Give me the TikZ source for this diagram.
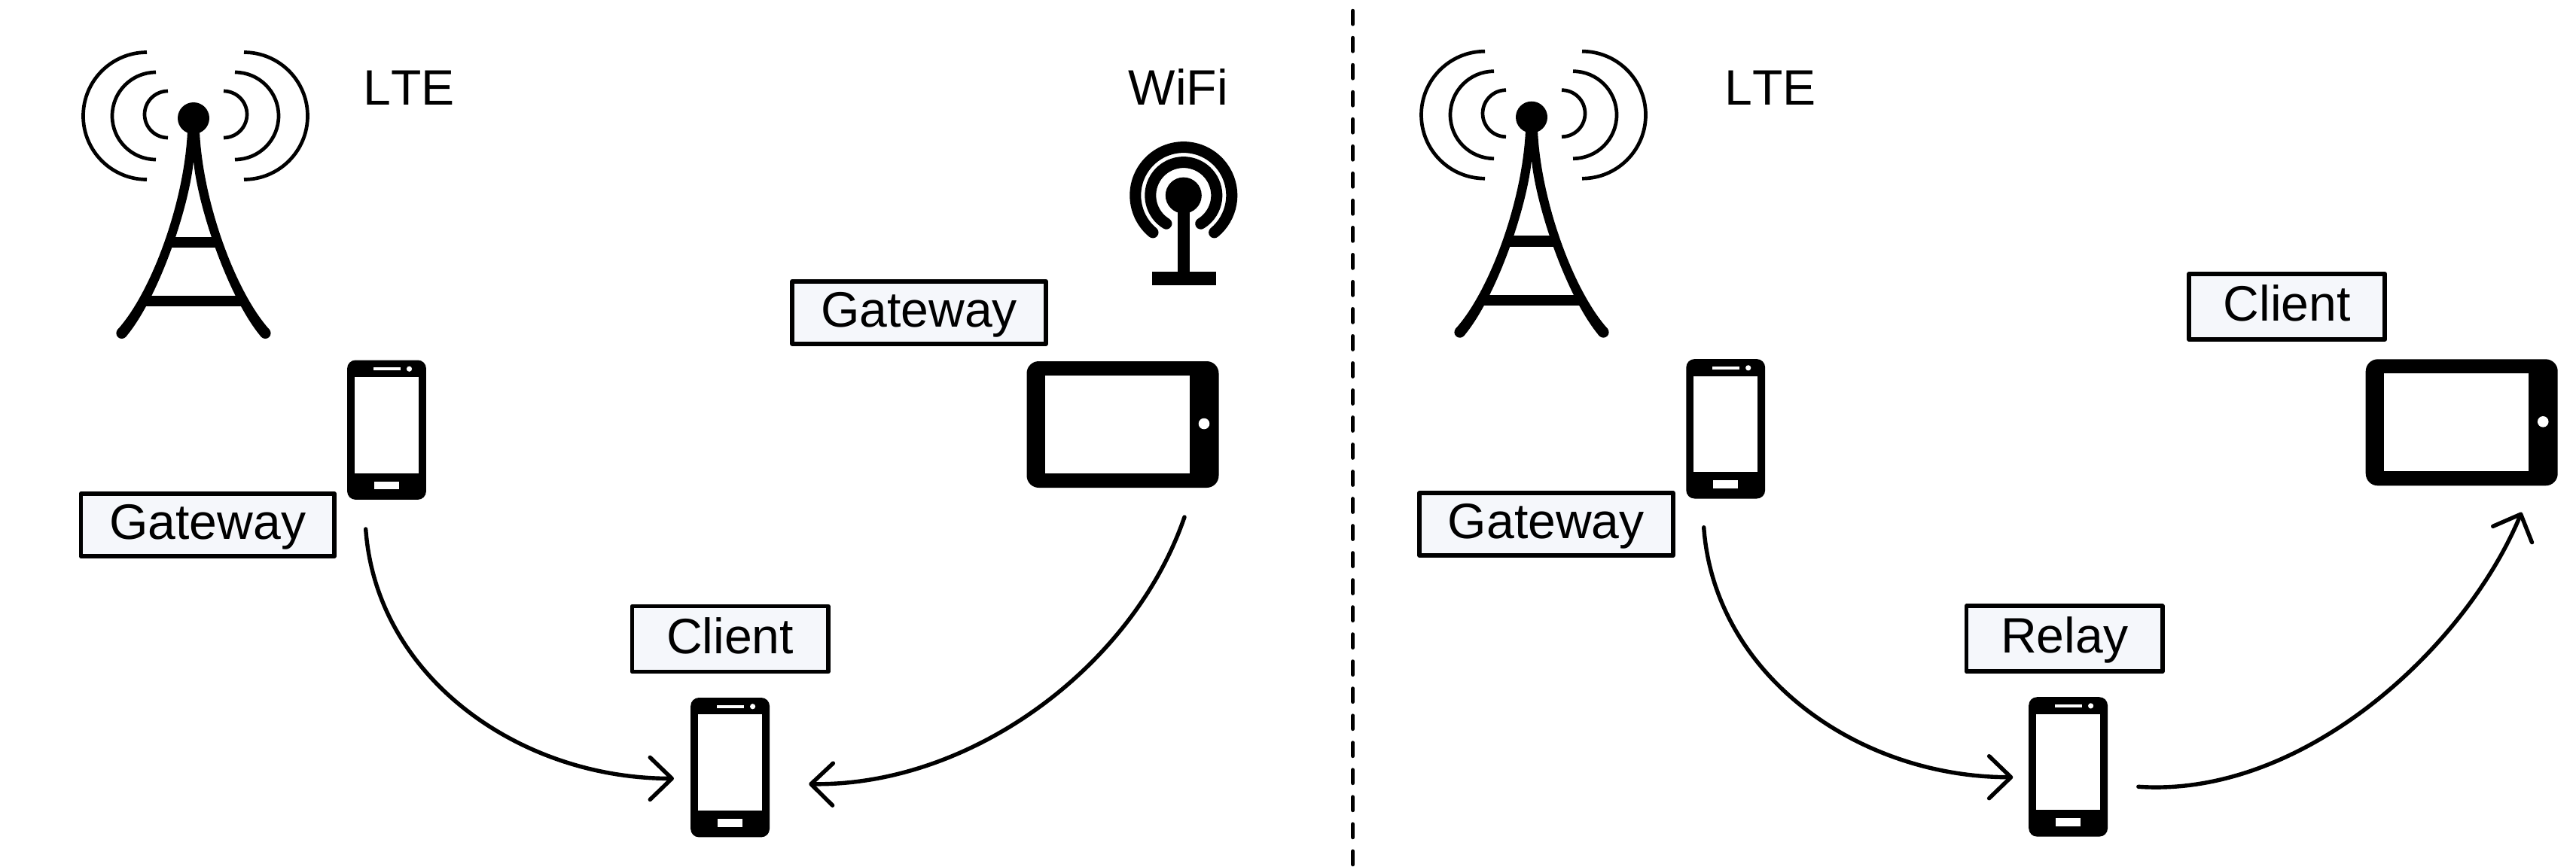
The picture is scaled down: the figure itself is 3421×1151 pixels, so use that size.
\documentclass[tikz,border=0pt]{standalone}
\usepackage{fontspec}
\setmainfont{Liberation Sans}
\usetikzlibrary{arrows.meta}
\definecolor{labelfill}{HTML}{F5F7FB}

\tikzset{
    labelbox/.style={draw, line width=0.057cm, line join=round, fill=labelfill, inner sep=0pt,
        text height=0.48cm, text depth=0.1cm, font=\fontsize{18.8}{22}\selectfont},
    widebox/.style={labelbox, minimum width=3.365cm, minimum height=0.83cm},
    narrowbox/.style={labelbox, minimum width=2.6cm, minimum height=0.87cm},
    nettext/.style={anchor=base, inner sep=0pt, font=\fontsize{18.8}{22}\selectfont},
    wave/.style={line width=0.047cm},
    link/.style={line width=0.054cm, line cap=round,
        -{Straight Barb[length=0.29cm, width=0.56cm, round]}},
    tower/.pic={
        \fill (0,0) circle[radius=21];
        \foreach \xl/\xr/\yc/\rad in {-62/67/3/84.5, -50/55/3/58, -34/40/5/31}{
            \draw[wave] (\xl,\yc+\rad) arc[start angle=90, end angle=270, radius=\rad];
            \draw[wave] (\xr,\yc+\rad) arc[start angle=90, end angle=-90, radius=\rad];
        }
        \foreach \side in {-1,1}{
            \fill ({\side*8},-17) .. controls ({\side*12},-110) and ({\side*55},-230) .. ({\side*100.8},-280.9)
                -- ({\side*89.8},-290.5) .. controls ({\side*47},-240) and ({\side*6},-120) .. (0,-57)
                -- (0,-17) -- cycle;
            \fill ({\side*95.3},-285.7) circle[radius=7.3];
        }
        \fill (-34,-157.5) rectangle (34,-172);
        \fill (-64,-236) rectangle (64,-250);
    },
    antenna/.pic={
        \fill (0,0) circle[radius=24];
        \draw[line width=0.15cm, line cap=round] (230.4:64) arc[start angle=230.4, end angle=-50.4, radius=64];
        \draw[line width=0.15cm, line cap=round] (238.6:44) arc[start angle=238.6, end angle=-58.6, radius=44];
        \fill (-8.2,0) rectangle (8.2,-102);
        \fill (-42,-101) rectangle (43,-119);
    },
    phone/.pic={
        \fill[rounded corners=0.11cm] (-52.4,-92.7) rectangle (52.4,92.7);
        \fill[white] (-42.7,70.3) rectangle (42.7,-57.5);
        \fill[white] (-18,83) rectangle (18,79);
        \fill[white] (30,81) circle[radius=3.6];
        \fill[white] (-16.6,-68.5) rectangle (16.6,-78.8);
    },
    tablet/.pic={
        \fill[rounded corners=0.16cm] (-127.5,-84) rectangle (127.5,84);
        \fill[white] (-103.5,65) rectangle (88.8,-65);
        \fill[white] (108,1) circle[radius=7.3];
    },
}

\begin{document}
\begin{tikzpicture}[x=0.01cm, y=0.01cm]
    \useasboundingbox (0,0) rectangle (3421,-1151);

    % left half
    \pic (lefttower) at (257,-157) {tower};
    \pic (wifiant) at (1571.8,-259.6) {antenna};
    \pic (gwphone) at (513.5,-571.2) {phone};
    \pic (clientphone) at (969.6,-1019.7) {phone};
    \pic (gwtablet) at (1491,-564) {tablet};

    \node[nettext] (leftlte) at (543,-139.5) {\addfontfeature{Kerning=Off}LTE};
    \node[nettext] (wifi) at (1564.8,-139.5) {WiFi};
    \node[widebox] (leftgw) at (275.8,-697.5) {Gateway};
    \node[widebox] (wifigw) at (1220.6,-415.3) {Gateway};
    \node[narrowbox] (leftclient) at (969.6,-849) {Client};

    \coordinate (gwout) at (485.7,-703);
    \coordinate (clientinl) at (895,-1034.4);
    \coordinate (tabletout) at (1573,-687);
    \coordinate (clientinr) at (1074.3,-1041.7);
    \draw[link] (gwout) .. controls +(14,-197) and +(-205,0) .. (clientinl);
    \draw[link] (tabletout) .. controls +(-68,-198) and +(216,-3) .. (clientinr);

    % divider
    \coordinate (divtop) at (1796.7,-14.4);
    \coordinate (divbot) at (1796.7,-1151);
    \draw[line width=0.053cm, line cap=round, dash pattern=on 0.175cm off 0.185cm] (divtop) -- (divbot);

    % right half
    \pic (righttower) at (2034,-155.7) {tower};
    \pic (rightgwphone) at (2291.7,-569.8) {phone};
    \pic (relayphone) at (2746.6,-1018.9) {phone};
    \pic (clienttablet) at (3269.2,-561.3) {tablet};

    \node[nettext] (rightlte) at (2351,-139.5) {\addfontfeature{Kerning=Off}LTE};
    \node[widebox] (rightgw) at (2053.3,-696.5) {Gateway};
    \node[narrowbox] (relay) at (2741.6,-848.8) {Relay};
    \node[narrowbox] (rightclient) at (3037.2,-407.3) {Client};

    \coordinate (rgwout) at (2262.7,-700.7);
    \coordinate (relayin) at (2673.3,-1032.7);
    \coordinate (relayout) at (2839.8,-1045.3);
    \coordinate (tabletin) at (3348.7,-680.7);
    \draw[link] (rgwout) .. controls +(14,-197) and +(-205,0) .. (relayin);
    \draw[link] (relayout) .. controls +(220,-15) and +(-74,-179) .. (tabletin);
\end{tikzpicture}
\end{document}
